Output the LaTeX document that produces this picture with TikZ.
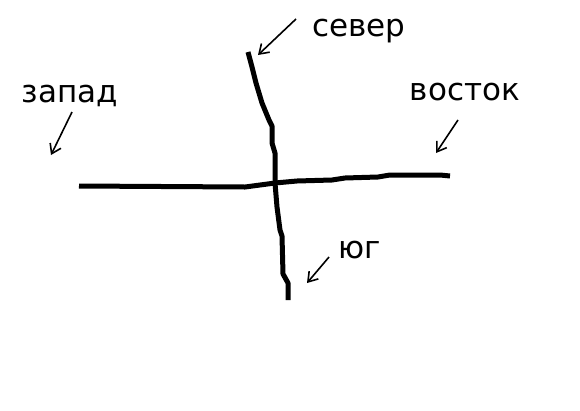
\documentclass[tikz,border=0pt]{standalone}
\usepackage{fontspec}
\setmainfont{DejaVu Sans}
\usetikzlibrary{arrows.meta}
\begin{document}
\begin{tikzpicture}[x=1pt,y=-1pt]
\tikzset{doroga/.style={line width=5pt, line join=round},
  strelka/.style={line width=1.6pt, -{Straight Barb[length=9pt,width=12pt]}},
  nadpis/.style={font=\fontsize{31}{36}\selectfont, anchor=base, inner sep=0pt}}
\useasboundingbox (0,0) rectangle (580,410);
\node[nadpis] (Sever) at (359,36) {север};
\node[nadpis] (Zapad) at (70,102) {запад};
\node[nadpis] (Vostok) at (465,100) {восток};
\node[nadpis] (Yug) at (360,258) {юг};
\coordinate (S1) at (296,19);
\coordinate (S2) at (258,55);
\coordinate (Z1) at (72,112);
\coordinate (Z2) at (51,155);
\coordinate (V1) at (458,120);
\coordinate (V2) at (436,153);
\coordinate (Y1) at (329,257);
\coordinate (Y2) at (307,283);
\draw[doroga] (248,52) -- (252,67) -- (256,83) -- (262,103) -- (269,120) -- (272,126) -- (272,143) -- (275,153) -- (275,183) -- (277,207) -- (280,230) -- (282,236) -- (283,274) -- (288,283) -- (288,300);
\draw[doroga] (79,186) -- (245,187) -- (275,183) -- (297,181) -- (332,180) -- (345,178) -- (378,177) -- (390,175) -- (412,175) -- (440,175) -- (450,176);
\draw[strelka] (S1) -- (S2);
\draw[strelka] (Z1) -- (Z2);
\draw[strelka] (V1) -- (V2);
\draw[strelka] (Y1) -- (Y2);
\end{tikzpicture}
\end{document}
